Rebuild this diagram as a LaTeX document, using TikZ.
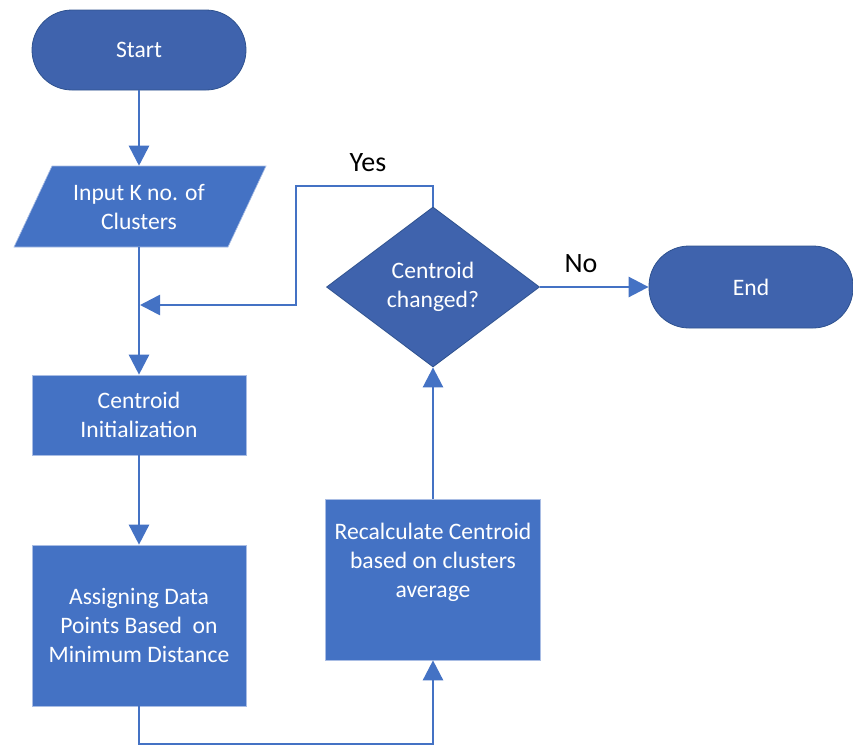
\documentclass[tikz,border=0pt]{standalone}
\usepackage{fontspec}
\setmainfont{Carlito}
\usetikzlibrary{arrows.meta,shapes.geometric}
\definecolor{darkfill}{HTML}{3F63AD}
\definecolor{darkline}{HTML}{2F528F}
\definecolor{boxfill}{HTML}{4472C4}
\definecolor{boxline}{HTML}{A9BDE4}
\definecolor{conn}{HTML}{4472C4}
\tikzset{
  txt/.style={text=white, font=\fontsize{17.7}{21.75}\selectfont, align=center, inner sep=0pt},
  term/.style={txt, fill=darkfill, draw=darkline, line width=0.6pt, rounded corners=30pt, minimum height=60pt},
  procbox/.style={txt, fill=boxfill, draw=boxline, line width=0.5pt, minimum width=160.5pt},
  decbox/.style={txt, shape=diamond, fill=darkfill, draw=darkline, line width=0.6pt, aspect=1.33, minimum width=159.75pt, minimum height=120pt},
  arr/.style={draw=conn, line width=2pt, -{Triangle[length=15pt,width=15pt]}},
  lbl/.style={font=\fontsize{21}{25}\selectfont, text=black, inner sep=0pt}
}
\begin{document}
\begin{tikzpicture}[x=0.75pt,y=-0.75pt]
\useasboundingbox (0,0) rectangle (853,746);
% nodes
\node[term, minimum width=160.5pt] (start) at (139,50) {Start};
\fill[boxfill] (52,166) -- (266,166) -- (228,247) -- (14,247) -- cycle;
\draw[boxline, line width=0.5pt] (52,166) -- (266,166) -- (228,247) -- (14,247) -- cycle;
\node[txt, minimum width=160.5pt, minimum height=60.75pt] (inp) at (139,206.5) {Input K no. of\\Clusters};
\node[procbox, minimum height=60pt] (init) at (139,415) {Centroid\\Initialization};
\node[procbox, minimum height=120.75pt] (assign) at (139,625.5) {Assigning Data\\Points Based\ \ on\\Minimum Distance};
\node[procbox, minimum width=161.25pt, minimum height=120.75pt] (recalc) at (433,579.5) {Recalculate Centroid\\based on clusters\\average\\\strut};
\node[decbox] (dec) at (433,287) {Centroid\\changed?};
\node[term, minimum width=153pt, minimum height=61.5pt] (end) at (751,287) {End};
% coordinates
\coordinate (bot) at (286,744);
\coordinate (ytop) at (296,186);
\coordinate (yend) at (140,305);
% connectors
\draw[arr] (start.south) -- (inp.north);
\draw[arr] (inp.south) -- (init.north);
\draw[arr] (init.south) -- (assign.north);
\draw[arr] (assign.south) |- (bot) -| (recalc.south);
\draw[arr] (recalc.north) -- (dec.south);
\draw[arr] (dec.east) -- (end.west);
\draw[arr] (dec.north) |- (ytop) |- (yend);
% labels
\node[lbl] (yes) at (368,163) {Yes};
\node[lbl] (no) at (581,264) {No};
\end{tikzpicture}
\end{document}
